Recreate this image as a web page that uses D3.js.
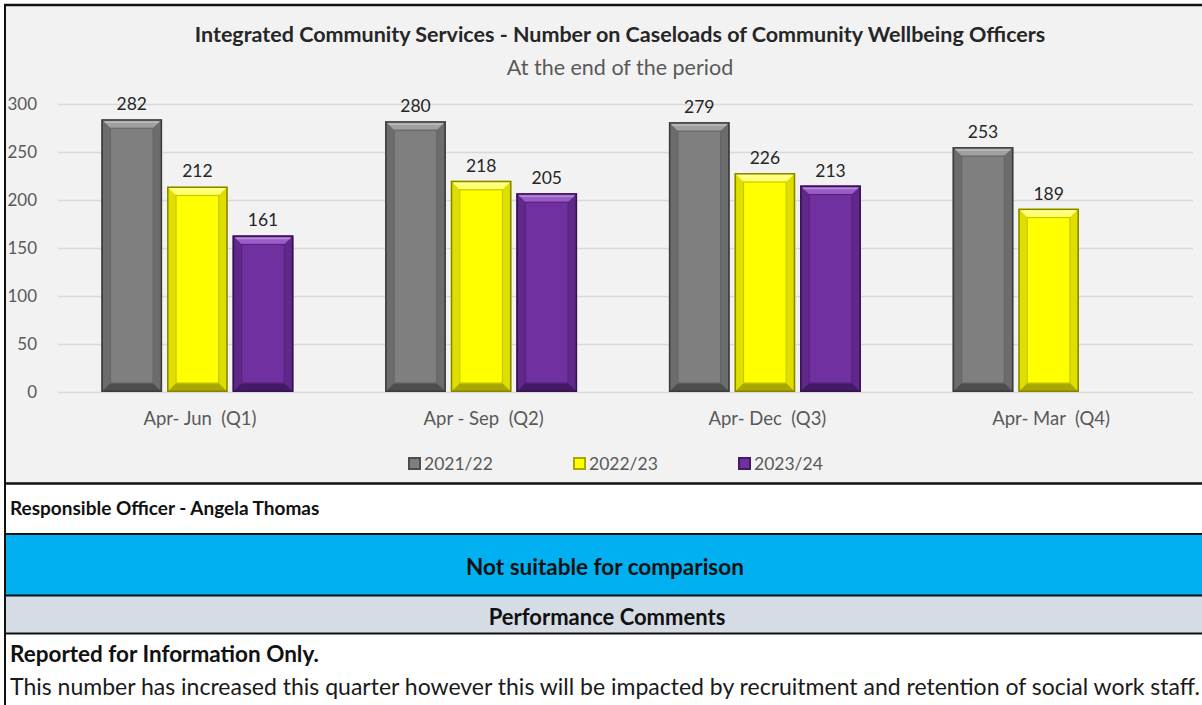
<!DOCTYPE html>
<html>
<head>
<meta charset="utf-8">
<script src="https://cdn.jsdelivr.net/npm/d3@7"></script>
<style>
  body { margin: 0; background: #fff; }
  svg { display: block; font-family: Lato, "Open Sans", sans-serif; }
  text { white-space: pre; }
</style>
</head>
<body>
<svg id="board" width="1202" height="705"></svg>
<script>
let quarters = ['Apr- Jun  (Q1)', 'Apr - Sep  (Q2)', 'Apr- Dec  (Q3)', 'Apr- Mar  (Q4)']
let years = ['2021/22', '2022/23', '2023/24']
let vals2122 = [282, 280, 279, 253]
let vals2223 = [212, 218, 226, 189]
let vals2324 = [161, 205, 213, null]
let yTicks = [0, 50, 100, 150, 200, 250, 300]

let title = 'Integrated Community Services - Number on Caseloads of Community Wellbeing Officers'
let subtitle = 'At the end of the period'

// colours per series: base, top bevel, side bevel, bottom bevel, outline, inner line
let pal = {
  '2021/22': { base: '#7f7f7f', top: '#a0a0a0', side: '#6c6c6c', bot: '#4d4d4d', line: '#3c3c3c', inner: '#666666' },
  '2022/23': { base: '#ffff00', top: '#ffff70', side: '#dede00', bot: '#a8a800', line: '#858500', inner: '#c9c900' },
  '2023/24': { base: '#7030a0', top: '#9a5cc8', side: '#5f2889', bot: '#431a63', line: '#351250', inner: '#58237f' }
}

let rows = []
quarters.forEach((q, i) => {
  rows.push({ q: q, year: '2021/22', v: vals2122[i] })
  rows.push({ q: q, year: '2022/23', v: vals2223[i] })
  rows.push({ q: q, year: '2023/24', v: vals2324[i] })
})
rows = rows.filter(d => d.v != null)

let board = d3.select('#board')

// background panels
board.append('rect').attr('x', 0).attr('y', 0).attr('width', 1202).attr('height', 705).attr('fill', '#fff')
board.append('rect').attr('x', 5).attr('y', 5).attr('width', 1197).attr('height', 478).attr('fill', '#f2f2f2')
board.append('rect').attr('x', 5).attr('y', 534).attr('width', 1197).attr('height', 61).attr('fill', '#00b0f0')
board.append('rect').attr('x', 5).attr('y', 596).attr('width', 1197).attr('height', 37).attr('fill', '#d6dce4')

let hline = (y, w) => board.append('line').attr('x1', 4).attr('x2', 1202).attr('y1', y).attr('y2', y)
  .attr('stroke', '#111').attr('stroke-width', w)
hline(5, 2.5)
hline(483.5, 2.5)
hline(534, 2)
hline(595.5, 2)
hline(633.5, 2)
board.append('line').attr('x1', 5).attr('x2', 5).attr('y1', 4).attr('y2', 705)
  .attr('stroke', '#111').attr('stroke-width', 2)

// scales
let y = d3.scaleLinear().domain([0, 300]).range([392, 104])
let x0 = d3.scaleBand().domain(quarters).range([58, 1193])
let x1 = d3.scaleBand().domain(years).range([-2.5, x0.bandwidth() - 2.5]).paddingInner(0.076).paddingOuter(0.7)

// grid + y labels
let yAxis = d3.axisLeft(y).tickValues(yTicks).tickSize(-(1193 - 58)).tickPadding(21)
let gy = board.append('g').attr('transform', 'translate(58,0)').call(yAxis)
gy.select('.domain').remove()
gy.selectAll('line').attr('stroke', '#d9d9d9').attr('stroke-width', 1.3)
gy.selectAll('text').attr('fill', '#595959').style('font-size', '17px').style('font-family', 'Lato, sans-serif')

// category labels
let xAxis = d3.axisBottom(x0).tickSize(0).tickPadding(20)
let gx = board.append('g').attr('transform', 'translate(0,392)').call(xAxis)
gx.select('.domain').remove()
gx.selectAll('text').attr('fill', '#595959').style('font-size', '18.5px').style('font-family', 'Lato, sans-serif')

// bevelled bars
let b = 9
let bars = board.selectAll('g.bar').data(rows).enter().append('g').attr('class', 'bar')
bars.each(function (d) {
  let g = d3.select(this)
  let c = pal[d.year]
  let bx = x0(d.q) + x1(d.year)
  let bw = x1.bandwidth()
  let by = y(d.v) - 2
  let bh = y(0) - by
  g.append('rect').attr('x', bx).attr('y', by).attr('width', bw).attr('height', bh).attr('fill', c.base)
  let pts = (arr) => arr.map(p => p.join(',')).join(' ')
  g.append('polygon').attr('fill', c.top)
    .attr('points', pts([[bx, by], [bx + bw, by], [bx + bw - b, by + b], [bx + b, by + b]]))
  g.append('polygon').attr('fill', c.side)
    .attr('points', pts([[bx, by], [bx + b, by + b], [bx + b, by + bh - b], [bx, by + bh]]))
  g.append('polygon').attr('fill', c.side)
    .attr('points', pts([[bx + bw, by], [bx + bw - b, by + b], [bx + bw - b, by + bh - b], [bx + bw, by + bh]]))
  g.append('polygon').attr('fill', c.bot)
    .attr('points', pts([[bx, by + bh], [bx + b, by + bh - b], [bx + bw - b, by + bh - b], [bx + bw, by + bh]]))
  g.append('line').attr('x1', bx + 3).attr('x2', bx + bw - 3).attr('y1', by + 3).attr('y2', by + 3)
    .attr('stroke', '#fff').attr('stroke-opacity', 0.3).attr('stroke-width', 1.5)
  g.append('rect').attr('x', bx + b).attr('y', by + b).attr('width', bw - 2 * b).attr('height', bh - 2 * b)
    .attr('fill', c.base).attr('stroke', c.inner).attr('stroke-width', 1.2)
  g.append('rect').attr('x', bx + 0.75).attr('y', by + 0.75).attr('width', bw - 1.5).attr('height', bh - 1.5)
    .attr('fill', 'none').attr('stroke', c.line).attr('stroke-width', 1.5)
  g.append('text').attr('x', bx + bw / 2).attr('y', by - 9).attr('text-anchor', 'middle')
    .attr('fill', '#262626').style('font-size', '17.5px').text(d.v)
})

// titles
board.append('text').attr('x', 620).attr('y', 42).attr('text-anchor', 'middle')
  .attr('fill', '#262626').style('font-size', '21.5px').style('font-weight', 'bold').text(title)
board.append('text').attr('x', 620).attr('y', 75).attr('text-anchor', 'middle')
  .attr('fill', '#595959').style('font-size', '21.5px').text(subtitle)

// legend
let leg = board.selectAll('g.leg').data(years).enter().append('g').attr('class', 'leg')
  .attr('transform', (d, i) => 'translate(409,458)'.replace('409', 409 + i * 165))
leg.append('rect').attr('width', 11).attr('height', 11).attr('fill', d => pal[d].base)
  .attr('stroke', d => pal[d].bot).attr('stroke-width', 2)
leg.append('text').attr('x', 15).attr('y', 11.5).attr('fill', '#595959').style('font-size', '17.5px').text(d => d)

// bottom rows
board.append('text').attr('x', 10).attr('y', 515).attr('fill', '#111')
  .style('font-size', '19px').style('font-weight', 'bold').text('Responsible Officer - Angela Thomas')
board.append('text').attr('x', 605).attr('y', 575).attr('text-anchor', 'middle').attr('fill', '#111')
  .style('font-size', '22.5px').style('font-weight', 'bold').text('Not suitable for comparison')
board.append('text').attr('x', 607).attr('y', 625).attr('text-anchor', 'middle').attr('fill', '#111')
  .style('font-size', '22px').style('font-weight', 'bold').text('Performance Comments')
board.append('text').attr('x', 10).attr('y', 662).attr('fill', '#111')
  .style('font-size', '22.5px').style('font-weight', 'bold').text('Reported for Information Only.')
board.append('text').attr('x', 10).attr('y', 695).attr('fill', '#1a1a1a')
  .style('font-size', '23px')
  .text('This number has increased this quarter however this will be impacted by recruitment and retention of social work staff.')
</script>
</body>
</html>
